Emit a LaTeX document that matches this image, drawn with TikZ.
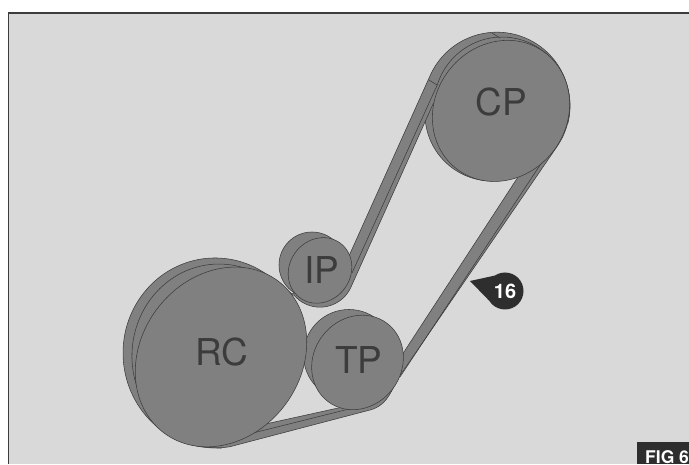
\documentclass[tikz,border=0pt]{standalone}
\usepackage{fontspec}
\setmainfont{TeX Gyre Heros}
\definecolor{panelgray}{HTML}{D9D9D9}
\definecolor{partgray}{HTML}{808080}
\definecolor{edgegray}{HTML}{3C3C3C}
\definecolor{tagblack}{HTML}{2E2E2E}
\tikzset{
    pulley/.style = {fill = partgray, draw = edgegray, line width = 0.55pt},
    beltline/.style = {draw = edgegray, line width = 0.55pt},
    partname/.style = {text = edgegray, inner sep = 0pt, font = \fontsize{37}{37}\selectfont},
    tagdot/.style = {circle, fill = tagblack, text = white, inner sep = 0pt,
        minimum size = 37pt, font = \fontsize{20}{20}\selectfont\bfseries},
}
\begin{document}
\begin{tikzpicture}[x=1pt, y=1pt]
    \useasboundingbox (0, 0) rectangle (689, 464);

    \fill[panelgray] (8.5, 0) rectangle (689, 451);
    \draw[edgegray, line width = 1.3pt] (8.5, 0) -- (8.5, 451) -- (689, 451);

    \coordinate (cp) at (501, 353);
    \coordinate (ip) at (320, 193.5);
    \coordinate (tp) at (357.5, 101.5);
    \coordinate (rc) at (221, 107);

    \draw[pulley] (492, 350) circle (67);

    % belt, outer edge and then inner edge
    \draw[pulley, even odd rule]
        (557.4, 318) arc[start angle=-34, end angle=156, radius=73]
        -- (348.5, 207) -- (315, 185) -- (292, 170) -- (270.4, 186.9)
        arc[start angle=53, end angle=279.4, x radius=92, y radius=95]
        -- (370, 54) .. controls (385, 58) and (390, 69) .. (397, 84) -- cycle
        (433.5, 361) -- (351, 177)
        arc[start angle=-24, end angle=-140, radius=34]
        -- (262, 164) -- (250, 36.6) -- (345, 57.5) -- (402, 109)
        -- (522.6, 294) -- cycle;

    \draw[beltline] (567.7, 340.1) arc[start angle=-15, end angle=162, x radius=68, y radius=69]
        -- (352, 191);
    \draw[beltline] (285.6, 167.1) arc[start angle=40, end angle=272, x radius=87, y radius=92];
    \draw[beltline] (245, 29) -- (353, 56);
    \draw[beltline] (400, 87) -- (550, 314);
    \draw[beltline] (492, 431) -- (500, 426);
    \draw[beltline] (429, 384) -- (437, 379);

    \draw[pulley] (312, 199) circle (33);
    \draw[pulley] (349, 109) circle (45.5);

    \draw[pulley, rotate around={53:(cp)}] (cp) ellipse[x radius=73, y radius=66];
    \draw[pulley, rotate around={53:(ip)}] (ip) ellipse[x radius=34, y radius=30.5];
    \draw[pulley, rotate around={53:(tp)}] (tp) ellipse[x radius=49, y radius=44];
    \draw[pulley, rotate around={53:(rc)}] (rc) ellipse[x radius=95, y radius=80];

    \node[partname] (cplabel) at (501, 362) {CP};
    \node[partname] (iplabel) at (322, 194) {IP};
    \node[partname] (tplabel) at (359, 104) {TP};
    \node[partname] (rclabel) at (221.5, 112) {RC};

    \node[tagdot] (tag) at (505, 173) {16};
    \coordinate (tagtip) at (470, 183);
    \fill[tagblack] (tag.125) -- (tagtip) -- (tag.210) -- cycle;

    \fill[tagblack] (637, 0) rectangle (689, 22);
    \node[anchor = base west, inner sep = 0pt, text = white,
        font = \fontsize{17.5}{17.5}\selectfont\bfseries] (figlabel) at (645, 0.4) {FIG 6};

\end{tikzpicture}
\end{document}
